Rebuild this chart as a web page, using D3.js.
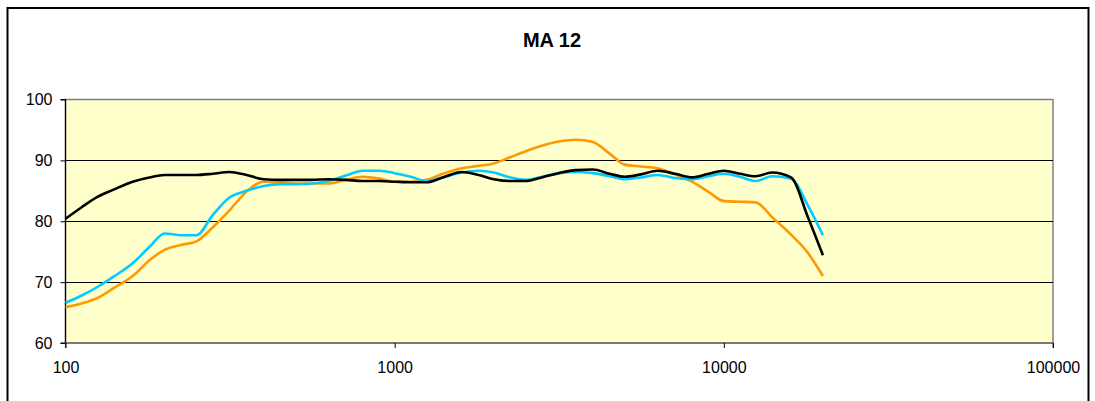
<!DOCTYPE html>
<html>
<head>
<meta charset="utf-8">
<script src="https://cdn.jsdelivr.net/npm/d3@7"></script>
<style>
  html, body { margin: 0; padding: 0; background: #fff; }
  svg { display: block; }
</style>
</head>
<body>
<svg id="chart" width="1095" height="401"></svg>
<script>
const title = "MA 12";
const freqs = [100, 112, 125, 140, 160, 180, 200, 224, 250, 280, 315, 355, 400, 450, 500, 560, 630, 710, 800, 900,
  1000, 1120, 1250, 1400, 1600, 1800, 2000, 2240, 2500, 2800, 3150, 3550, 4000, 4500, 5000, 5600, 6300, 7100, 8000, 9000,
  10000, 11200, 12500, 14000, 16000, 18000, 20000];
const blackSeries = [80.4, 82.3, 84.0, 85.2, 86.5, 87.2, 87.6, 87.6, 87.6, 87.8, 88.1, 87.6, 86.9, 86.8, 86.8, 86.8, 86.9, 86.8, 86.6, 86.6,
  86.5, 86.4, 86.4, 87.2, 88.1, 87.6, 86.9, 86.6, 86.6, 87.2, 87.9, 88.4, 88.5, 87.8, 87.3, 87.7, 88.3, 87.8, 87.2, 87.8,
  88.3, 87.8, 87.4, 88.0, 87.2, 80.7, 74.4];
const cyanSeries = [66.6, 67.8, 69.2, 70.9, 73.1, 75.8, 78.0, 77.7, 77.7, 81.0, 83.9, 85.0, 85.8, 86.1, 86.1, 86.2, 86.6, 87.5, 88.3, 88.3,
  87.9, 87.3, 86.6, 87.2, 88.0, 88.3, 88.0, 87.2, 86.8, 87.3, 87.9, 88.1, 87.9, 87.4, 86.9, 87.2, 87.6, 87.1, 86.9, 87.4,
  87.8, 87.3, 86.6, 87.4, 87.0, 82.6, 77.7];
const orangeSeries = [65.9, 66.5, 67.4, 69.0, 71.0, 73.6, 75.3, 76.1, 76.7, 79.0, 81.8, 84.9, 86.5, 86.4, 86.2, 86.2, 86.2, 86.8, 87.3, 87.0,
  86.5, 86.5, 86.8, 87.8, 88.7, 89.1, 89.5, 90.5, 91.5, 92.4, 93.1, 93.4, 93.0, 91.1, 89.3, 89.0, 88.7, 87.7, 86.5, 84.8,
  83.3, 83.2, 83.1, 80.7, 77.8, 74.8, 71.0];
const xTicks = [100, 1000, 10000, 100000];
const yTicks = [60, 70, 80, 90, 100];

const svg = d3.select("#chart");
const plot = { left: 65.5, right: 1053, top: 99.5, bottom: 343 };

// outer frame
svg.append("rect").attr("x", 7.5).attr("y", 8).attr("width", 1081).attr("height", 420)
  .attr("fill", "#fff").attr("stroke", "#000").attr("stroke-width", 2);

svg.append("text").attr("x", 552).attr("y", 47).attr("text-anchor", "middle")
  .attr("font-family", "Liberation Sans, Arial, sans-serif").attr("font-size", 20).attr("font-weight", "bold")
  .text(title);

const x = d3.scaleLog().domain([100, 100000]).range([plot.left, plot.right]);
const y = d3.scaleLinear().domain([60, 100]).range([plot.bottom, plot.top]);

// plot background
svg.append("rect").attr("x", plot.left).attr("y", plot.top)
  .attr("width", plot.right - plot.left).attr("height", plot.bottom - plot.top)
  .attr("fill", "#FFFFCC").attr("stroke", "#808080").attr("stroke-width", 1.5);

// gridlines
svg.append("g").selectAll("line").data(yTicks.filter(d => d > 60 && d < 100)).join("line")
  .attr("x1", plot.left).attr("x2", plot.right)
  .attr("y1", d => Math.round(y(d)) + 0.5).attr("y2", d => Math.round(y(d)) + 0.5)
  .attr("stroke", "#000").attr("stroke-width", 1);

// axes
const yAxis = d3.axisLeft(y).tickValues(yTicks).tickSize(5).tickPadding(8).tickFormat(d3.format("d"));
const gy = svg.append("g").attr("transform", `translate(${plot.left},0)`).call(yAxis);
const xAxis = d3.axisBottom(x).tickValues(xTicks).tickSize(5).tickPadding(14).tickFormat(d3.format("d"));
const gx = svg.append("g").attr("transform", `translate(0,${plot.bottom})`).call(xAxis);
[gx, gy].forEach(g => {
  g.selectAll("text").attr("font-family", "Liberation Sans, Arial, sans-serif").attr("font-size", 16).attr("fill", "#000");
  g.selectAll("line").attr("stroke", "#000");
  g.select(".domain").attr("stroke", "#000").attr("stroke-width", 1.2);
});
gy.select(".domain").attr("d", `M-5,${plot.top}H0V${plot.bottom}H-5`);
gx.select(".domain").attr("d", `M${plot.left},5V0H${plot.right}V5`).attr("stroke", "#555");

const line = d3.line().x((d, i) => x(freqs[i])).y(d => y(d)).curve(d3.curveMonotoneX);
const clip = svg.append("g");
[[orangeSeries, "#FF9900"], [cyanSeries, "#00CCFF"], [blackSeries, "#000000"]].forEach(([s, c]) => {
  clip.append("path").datum(s).attr("d", line).attr("fill", "none")
    .attr("stroke", c).attr("stroke-width", 2.6).attr("stroke-linejoin", "round");
});
</script>
</body>
</html>
